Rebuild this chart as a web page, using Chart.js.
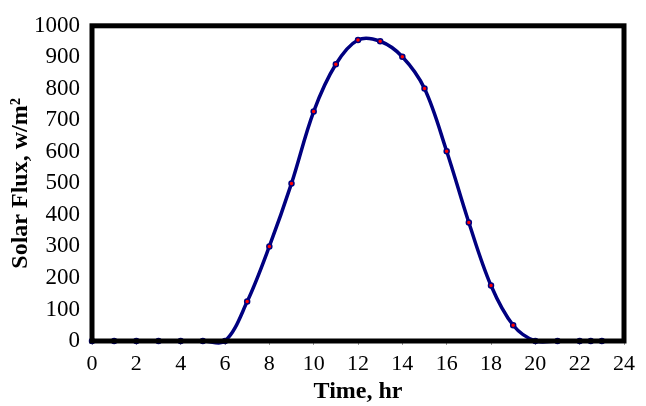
<!DOCTYPE html>
<html>
<head>
<meta charset="utf-8">
<script src="https://cdn.jsdelivr.net/npm/chart.js@4"></script>
<style>
  html, body { margin: 0; padding: 0; background: #fff; }
  #wrap { width: 646px; height: 406px; }
</style>
</head>
<body>
<div id="wrap"><canvas id="chart"></canvas></div>
<script>
// time of day (hr) and solar flux (w/m2)
const hours = [0, 1, 2, 3, 4, 5, 6, 7, 8, 9, 10, 11, 12, 13, 14, 15, 16, 17, 18, 19, 20, 21, 22, 22.5, 23];
const flux = [0, 0, 0, 0, 0, 0, 0, 125, 300, 500, 728, 878, 955, 951, 902, 801, 602, 376, 176, 50, 0, 0, 0, 0, 0];

const xTitle = 'Time, hr';
const yTitle = 'Solar Flux, w/m\u00B2';

const serif = '"Liberation Serif", "Times New Roman", serif';

//box round the plot area
const frame = {
    id: 'frame',
    afterDraw(chart) {
        const {ctx, chartArea: a} = chart;
        ctx.save();
        ctx.strokeStyle = '#000';
        ctx.lineWidth = 5;
        ctx.strokeRect(a.left, a.top, a.right - a.left, a.bottom - a.top);
        ctx.restore();
    }
};

const points = hours.map((h, i) => ({x: h, y: flux[i]}));

new Chart(document.getElementById('chart'), {
    type: 'line',
    data: {
        datasets: [{
            data: points,
            borderColor: '#000080',
            borderWidth: 3.5,
            tension: 0.35,
            capBezierPoints: false,
            pointRadius: 2.5,
            pointBackgroundColor: '#ff0000',
            pointBorderColor: '#000080',
            pointBorderWidth: 1.5,
            clip: 10
        }]
    },
    options: {
        responsive: true,
        maintainAspectRatio: false,
        animation: false,
        layout: {padding: {top: 14, right: 22, left: 2, bottom: 0}},
        plugins: {
            legend: {display: false},
            tooltip: {enabled: false}
        },
        scales: {
            x: {
                type: 'linear',
                min: 0,
                max: 24,
                afterFit: (s) => { s.height = 65; },
                grid: {drawOnChartArea: false, drawTicks: true, tickLength: 4, color: '#999'},
                border: {display: false},
                ticks: {
                    stepSize: 2,
                    autoSkip: false,
                    maxRotation: 0,
                    color: '#000',
                    padding: 6,
                    font: {family: serif, size: 22}
                },
                title: {
                    display: true,
                    text: xTitle,
                    color: '#000',
                    padding: {top: 0, bottom: 0},
                    font: {family: serif, size: 24, weight: 'bold'}
                }
            },
            y: {
                min: 0,
                max: 1000,
                afterFit: (s) => { s.width = 90; },
                grid: {display: false, drawTicks: false},
                border: {display: false},
                ticks: {
                    stepSize: 100,
                    autoSkip: false,
                    color: '#000',
                    padding: 12,
                    font: {family: serif, size: 23},
                    callback: (v) => String(v)
                },
                title: {
                    display: true,
                    text: yTitle,
                    color: '#000',
                    padding: {top: 4, bottom: 0},
                    font: {family: serif, size: 24, weight: 'bold'}
                }
            }
        }
    },
    plugins: [frame]
});
</script>
</body>
</html>
